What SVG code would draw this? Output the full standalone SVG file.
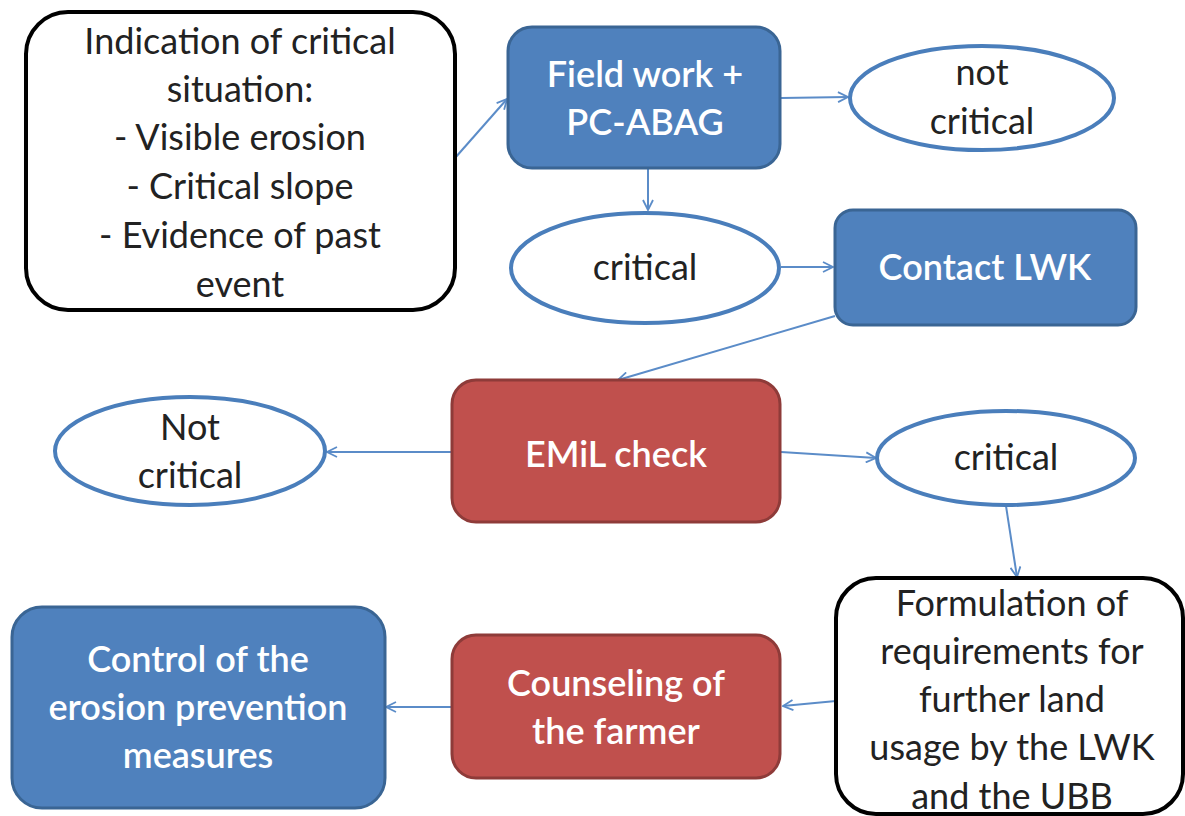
<svg xmlns="http://www.w3.org/2000/svg" width="1185" height="816" viewBox="0 0 1185 816">
<defs>
<style>
.t{font-family:Lato,"Open Sans","Liberation Sans",sans-serif;font-size:36px;text-anchor:middle}
.dk{fill:#222}
.wh{fill:#fff;font-weight:600}
.blue{fill:#4f81bd;stroke:#3a6594;stroke-width:3}
.red{fill:#c0504d;stroke:#8e3b39;stroke-width:3}
.blk{fill:#fff;stroke:#000;stroke-width:4}
.ell{fill:#fff;stroke:#4a7ebb;stroke-width:4}
.c{stroke:#5b8cc8;stroke-width:2;fill:none;marker-end:url(#ah)}
</style>
<marker id="ah" viewBox="0 0 12 12" refX="11" refY="6" markerWidth="12" markerHeight="12" markerUnits="userSpaceOnUse" orient="auto">
<path d="M1,1 L11,6 L1,11" fill="none" stroke="#5b8cc8" stroke-width="1.8"/>
</marker>
</defs>
<rect width="1185" height="816" fill="#fff"/>
<g id="connectors">
<line class="c" x1="455" y1="158" x2="507" y2="99"/>
<line class="c" x1="781" y1="98" x2="848" y2="97"/>
<line class="c" x1="648" y1="169" x2="648" y2="210"/>
<line class="c" x1="781" y1="267" x2="833" y2="267"/>
<line class="c" x1="835" y1="316" x2="618" y2="380"/>
<line class="c" x1="452" y1="452" x2="327" y2="452"/>
<line class="c" x1="781" y1="452" x2="876" y2="458"/>
<line class="c" x1="1006" y1="506" x2="1017" y2="577"/>
<line class="c" x1="836" y1="701" x2="783" y2="706"/>
<line class="c" x1="452" y1="707" x2="386" y2="707"/>
</g>
<g id="indication">
<rect class="blk" x="26" y="12" width="429" height="298" rx="42"/>
<text class="t dk" x="240" y="54">Indication of critical</text>
<text class="t dk" x="240" y="102">situation:</text>
<text class="t dk" x="240" y="150">- Visible erosion</text>
<text class="t dk" x="240" y="199">- Critical slope</text>
<text class="t dk" x="240" y="248">- Evidence of past</text>
<text class="t dk" x="240" y="297">event</text>
</g>
<g id="fieldwork">
<rect class="blue" x="508" y="27" width="272" height="141" rx="24"/>
<text class="t wh" x="645" y="87">Field work +</text>
<text class="t wh" x="645" y="135">PC-ABAG</text>
</g>
<g id="notcritical1">
<ellipse class="ell" cx="982" cy="98" rx="132" ry="52"/>
<text class="t dk" x="982" y="85">not</text>
<text class="t dk" x="982" y="134">critical</text>
</g>
<g id="critical1">
<ellipse class="ell" cx="645" cy="268" rx="134" ry="55"/>
<text class="t dk" x="645" y="280">critical</text>
</g>
<g id="contactlwk">
<rect class="blue" x="835" y="210" width="301" height="115" rx="18"/>
<text class="t wh" x="985" y="280">Contact LWK</text>
</g>
<g id="emil">
<rect class="red" x="452" y="380" width="328" height="142" rx="24"/>
<text class="t wh" x="616" y="467">EMiL check</text>
</g>
<g id="notcritical2">
<ellipse class="ell" cx="190" cy="451" rx="135" ry="54"/>
<text class="t dk" x="190" y="440">Not</text>
<text class="t dk" x="190" y="488">critical</text>
</g>
<g id="critical2">
<ellipse class="ell" cx="1006" cy="458" rx="129" ry="47"/>
<text class="t dk" x="1006" y="470">critical</text>
</g>
<g id="formulation">
<rect class="blk" x="836" y="578" width="347" height="236" rx="40"/>
<text class="t dk" x="1012" y="616">Formulation of</text>
<text class="t dk" x="1012" y="664">requirements for</text>
<text class="t dk" x="1012" y="712">further land</text>
<text class="t dk" x="1012" y="760">usage by the LWK</text>
<text class="t dk" x="1012" y="809">and the UBB</text>
</g>
<g id="counseling">
<rect class="red" x="452" y="635" width="328" height="143" rx="24"/>
<text class="t wh" x="616" y="696">Counseling of</text>
<text class="t wh" x="616" y="744">the farmer</text>
</g>
<g id="control">
<rect class="blue" x="12" y="607" width="373" height="201" rx="30"/>
<text class="t wh" x="198" y="672">Control of the</text>
<text class="t wh" x="198" y="720">erosion prevention</text>
<text class="t wh" x="198" y="768">measures</text>
</g>
</svg>
